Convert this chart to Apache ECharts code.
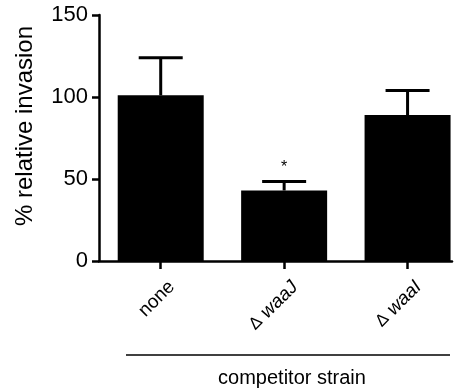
<!DOCTYPE html>
<html>
<head>
<meta charset="utf-8">
<script src="https://cdn.jsdelivr.net/npm/echarts@6/dist/echarts.min.js"></script>
<style>
  html, body { margin: 0; padding: 0; background: #fff; }
  #chart { width: 467px; height: 391px; }
</style>
</head>
<body>
<div id="chart"></div>
<script>
  var strains = ['none', 'waaJ', 'waaI'];
  var meanValues = [101, 43, 89];
  var errorValues = [23, 5.5, 15];
  var marks = ['', '*', ''];
  var yTicks = [0, 50, 100, 150];

  var chart = echarts.init(document.getElementById('chart'));
  var font = 'Liberation Sans, Arial, sans-serif';

  var barData = meanValues.map(function (v, i) { return [i, v]; });
  var errData = meanValues.map(function (v, i) { return [i, v, v + errorValues[i], marks[i]]; });

  var option = {
    animation: false,
    grid: { left: 99, right: 15, top: 15, bottom: 130 },
    xAxis: {
      type: 'value',
      min: -0.5,
      max: 2.36,
      splitLine: { show: false },
      axisLine: { show: true, onZero: false, lineStyle: { color: '#000', width: 2.5 } },
      axisTick: { show: true, customValues: [0, 1, 2], length: 8, lineStyle: { color: '#000', width: 2.5 } },
      axisLabel: {
        customValues: [0, 1, 2],
        rotate: 45,
        margin: 12,
        verticalAlign: 'top',
        padding: [6, 0, 0, 0],
        fontFamily: font,
        fontSize: 19,
        color: '#000',
        formatter: function (v) {
          var i = Math.round(v);
          if (i === 0) return strains[0];
          return '{d|\u0394} {i|' + strains[i] + '}';
        },
        rich: {
          d: { fontFamily: font, fontSize: 17, color: '#000' },
          i: { fontFamily: font, fontSize: 19, fontStyle: 'italic', color: '#000' }
        }
      }
    },
    yAxis: {
      type: 'value',
      min: 0,
      max: 150,
      interval: 50,
      name: '% relative invasion',
      nameLocation: 'middle',
      nameGap: 62,
      nameTextStyle: { fontFamily: font, fontSize: 24, color: '#000', padding: [0, 0, 0, 24] },
      splitLine: { show: false },
      axisLine: { show: true, onZero: false, lineStyle: { color: '#000', width: 2.5 } },
      axisTick: { show: true, inside: false, length: 7, lineStyle: { color: '#000', width: 2.5 } },
      axisLabel: {
        margin: 11,
        fontFamily: font,
        fontSize: 22,
        color: '#000',
        customValues: yTicks
      }
    },
    graphic: [
      {
        type: 'line',
        shape: { x1: 126, y1: 355, x2: 450, y2: 355 },
        style: { stroke: '#000', lineWidth: 1.5 }
      },
      {
        type: 'text',
        x: 292,
        y: 378,
        style: {
          text: 'competitor strain',
          fontFamily: font,
          fontSize: 20,
          fill: '#000',
          align: 'center',
          verticalAlign: 'middle'
        }
      }
    ],
    series: [
      {
        type: 'bar',
        data: barData,
        barWidth: 86,
        itemStyle: { color: '#000' }
      },
      {
        type: 'custom',
        z: 5,
        data: errData,
        renderItem: function (params, api) {
          var x = api.value(0);
          var base = api.coord([x, api.value(1)]);
          var top = api.coord([x, api.value(2)]);
          var half = 22;
          var children = [
            { type: 'line', shape: { x1: base[0], y1: base[1], x2: top[0], y2: top[1] },
              style: { stroke: '#000', lineWidth: 3 } },
            { type: 'line', shape: { x1: top[0] - half, y1: top[1], x2: top[0] + half, y2: top[1] },
              style: { stroke: '#000', lineWidth: 3 } }
          ];
          var mark = errData[params.dataIndex][3];
          if (mark) {
            children.push({
              type: 'text',
              style: { text: mark, x: top[0], y: top[1] - 14, fontFamily: font, fontSize: 16,
                fill: '#000', align: 'center', verticalAlign: 'middle' }
            });
          }
          return { type: 'group', children: children };
        }
      }
    ]
  };

  chart.setOption(option);
</script>
</body>
</html>
